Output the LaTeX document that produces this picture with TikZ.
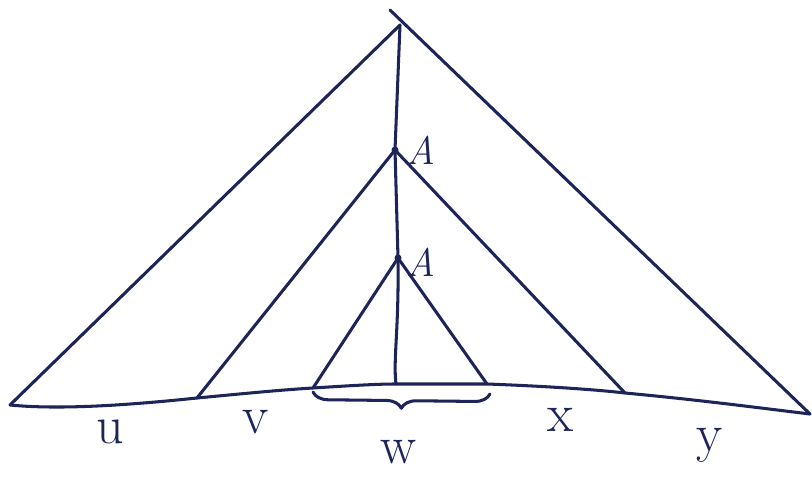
\documentclass[tikz,border=0pt]{standalone}
\usetikzlibrary{decorations.pathreplacing}
\definecolor{ink}{RGB}{28,36,88}
\begin{document}
\begin{tikzpicture}[x=0.03cm,y=-0.03cm,
  pen/.style={draw=ink,line width=2.6pt,line cap=round,line join=round},
  lbl/.style={text=ink,font=\fontsize{46}{50}\selectfont},
  albl/.style={text=ink,font=\fontsize{34}{38}\selectfont\itshape}]
\useasboundingbox (0,0) rectangle (812,488);
% key points
\coordinate (top) at (400,25);
\coordinate (topext) at (390,10);
\coordinate (A1) at (395,150);
\coordinate (A2) at (398,258);
\coordinate (bl) at (10,405);
\coordinate (br) at (810,414);
\coordinate (v1) at (197,398);
\coordinate (w1) at (313,388);
\coordinate (wm) at (396,384);
\coordinate (w2) at (487,384);
\coordinate (x1) at (625,393);
% outer triangle
\draw[pen] (bl) -- (top);
\draw[pen] (topext) -- (br);
% baseline
\draw[pen] (bl) .. controls (60,410) and (130,405) .. (v1)
  .. controls (250,393) and (280,390) .. (w1)
  .. controls (360,385) and (380,384) .. (wm)
  -- (w2)
  .. controls (540,386) and (590,389) .. (x1)
  .. controls (700,400) and (760,408) .. (br);
% spine
\draw[pen] (top) -- (A1) -- (A2) .. controls (399,330) and (393,360) .. (wm);
% middle subtree
\draw[pen] (A1) -- (v1);
\draw[pen] (A1) -- (x1);
% inner subtree
\draw[pen] (A2) -- (w1);
\draw[pen] (A2) -- (w2);
% node dots
\fill[ink] (A1) circle (3.5);
\fill[ink] (A2) circle (3.5);
% labels
\node[albl] (LA1) at (421,150) {A};
\node[albl] (LA2) at (421,262) {A};
\node[lbl] (lu) at (110,432) {u};
\node[lbl] (lv) at (256,422) {v};
\node[lbl] (lw) at (398,452) {w};
\node[lbl] (lx) at (561,420) {x};
\node[lbl] (ly) at (710,445) {y};
% brace
\draw[pen,decorate,decoration={brace,mirror,amplitude=13pt}] (313,392) -- (490,394);
\end{tikzpicture}
\end{document}
